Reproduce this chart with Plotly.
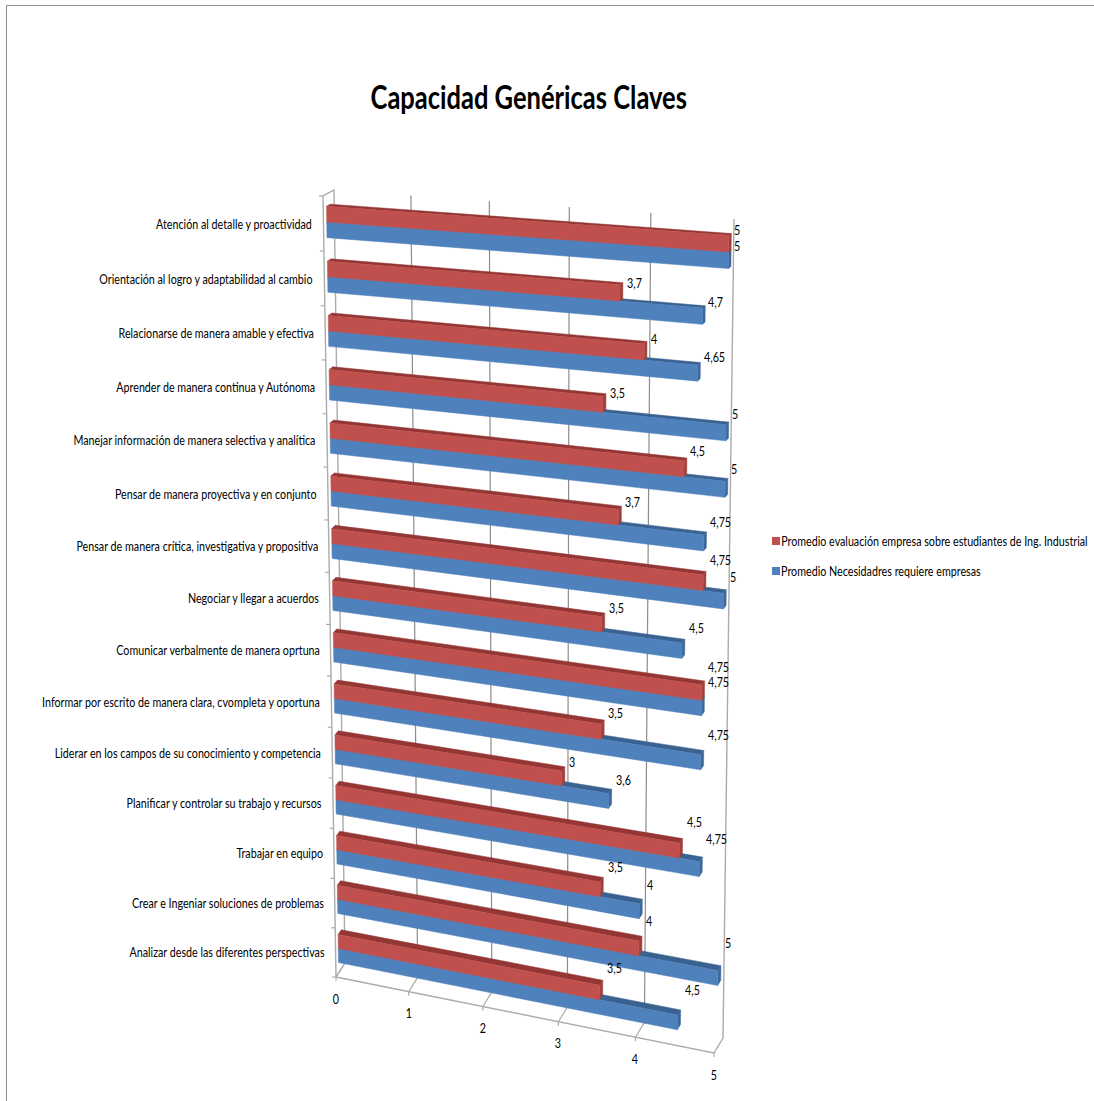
import plotly.graph_objects as go

# Chart content
TITLE = "Capacidad Genéricas Claves"
categories = [
    "Atención al detalle y proactividad",
    "Orientación al logro y adaptabilidad al cambio",
    "Relacionarse de manera amable y efectiva",
    "Aprender de manera continua y Autónoma",
    "Manejar información de manera selectiva y analítica",
    "Pensar de manera proyectiva y en conjunto",
    "Pensar de manera crítica, investigativa y propositiva",
    "Negociar y llegar a acuerdos",
    "Comunicar verbalmente de manera oprtuna",
    "Informar por escrito de manera clara, cvompleta y oportuna",
    "Liderar en los campos de su conocimiento y competencia",
    "Planificar y controlar su trabajo y recursos",
    "Trabajar en equipo",
    "Crear e Ingeniar soluciones de problemas",
    "Analizar desde las diferentes perspectivas",
]
evaluacion = [5, 3.7, 4, 3.5, 4.5, 3.7, 4.75, 3.5, 4.75, 3.5, 3, 4.5, 3.5, 4, 3.5]
necesidades = [5, 4.7, 4.65, 5, 5, 4.75, 5, 4.5, 4.75, 4.75, 3.6, 4.75, 4, 5, 4.5]
value_ticks = [0, 1, 2, 3, 4, 5]
NAME_RED = "Promedio evaluación empresa sobre estudiantes de Ing. Industrial"
NAME_BLUE = "Promedio Necesidadres requiere empresas"

# Styling
FONT = "Lato"
BODY_SIZE = 13
TITLE_SIZE = 33
CONDENSE_BODY = 0.825   # horizontal squeeze of the small text
CONDENSE_TITLE = 0.773  # horizontal squeeze of the title
RED, RED_TOP, RED_END = "#C0504D", "#943634", "#A03F3C"
BLUE, BLUE_TOP, BLUE_END = "#4F81BD", "#3A6291", "#3D6799"
WALL, GRID, BORDER = "#ABABAB", "#8C8C8C", "#8E8E8E"

# Perspective box of the 3-D plot: (front/back, bottom/top, left/right) page positions
BOX = {
    (0, 0, 0): (336, 977), (0, 0, 1): (714, 1053),
    (0, 1, 0): (323, 196), (0, 1, 1): (727, 224),
    (1, 0, 0): (345, 963), (1, 0, 1): (723, 1038),
    (1, 1, 0): (334, 190), (1, 1, 1): (734, 219),
}
N = len(categories)
VMAX = 5
DEPTH_FRONT, DEPTH_BACK = 0.30, 0.65
GAP = 0.21   # fraction of a category band left below the bars
BAR = 0.285  # fraction of a category band taken by one bar


def warp(t, w):
    """Foreshortening along one box edge."""
    return t / (t + (1 - t) * w)


def project(value, level, depth=0.0):
    """Map (value, category level, depth) to a page position."""
    u = warp(value / VMAX, 1.05)
    s = warp(level / N, 1.063)
    out = []
    for k in (0, 1):
        back_front = []
        for d in (0, 1):
            bottom = BOX[(d, 0, 0)][k] * (1 - u) + BOX[(d, 0, 1)][k] * u
            top = BOX[(d, 1, 0)][k] * (1 - u) + BOX[(d, 1, 1)][k] * u
            back_front.append(bottom * (1 - s) + top * s)
        out.append(back_front[0] * (1 - depth) + back_front[1] * depth)
    return out


def polygons(faces):
    xs, ys = [], []
    for face in faces:
        pts = [project(*p) for p in face]
        pts.append(pts[0])
        xs += [p[0] for p in pts] + [None]
        ys += [p[1] for p in pts] + [None]
    return xs, ys


def polylines(segments):
    xs, ys = [], []
    for seg in segments:
        pts = [project(*p) for p in seg]
        xs += [p[0] for p in pts] + [None]
        ys += [p[1] for p in pts] + [None]
    return xs, ys


def bar_faces(values, offset):
    """Front, top and end faces of one series' bars."""
    front, top, end = [], [], []
    for i, v in enumerate(values):
        lo = N - 1 - i + GAP + offset * BAR
        hi = lo + BAR
        f, b = DEPTH_FRONT, DEPTH_BACK
        front.append([(0, lo, f), (v, lo, f), (v, hi, f), (0, hi, f)])
        top.append([(0, hi, f), (v, hi, f), (v, hi, b), (0, hi, b)])
        end.append([(v, lo, f), (v, lo, b), (v, hi, b), (v, hi, f)])
    return front, top, end


fig = go.Figure()


def add_fill(faces, color):
    x, y = polygons(faces)
    fig.add_trace(go.Scatter(x=x, y=y, mode="lines", fill="toself", fillcolor=color,
                             line=dict(color=color, width=0.5), hoverinfo="skip",
                             showlegend=False))


def add_lines(segments, color, width=1.2):
    x, y = polylines(segments)
    fig.add_trace(go.Scatter(x=x, y=y, mode="lines", line=dict(color=color, width=width),
                             hoverinfo="skip", showlegend=False))


# Walls, floor and gridlines
add_lines([[(v, 0, 1), (v, N, 1)] for v in value_ticks[1:-1]], GRID)
add_lines([[(v, 0, 0), (v, 0, 1)] for v in value_ticks[1:-1]], WALL)
add_lines([
    [(0, 0, 0), (VMAX, 0, 0), (VMAX, 0, 1), (VMAX, N, 1)],
    [(0, 0, 1), (0, 0, 0), (0, N, 0), (0, N, 1), (0, 0, 1)],
], WALL, 1.4)

# Tick marks on the category and value edges
tx, ty = [], []
for lvl in range(N + 1):
    px, py = project(0, lvl, 0)
    tx += [px - 4, px, None]
    ty += [py, py, None]
for v in value_ticks:
    px, py = project(v, 0, 0)
    tx += [px, px, None]
    ty += [py, py + 4, None]
fig.add_trace(go.Scatter(x=tx, y=ty, mode="lines", line=dict(color=WALL, width=1.2),
                         hoverinfo="skip", showlegend=False))

# Bars, lower series first so the upper one sits on it
for values, offset, colors in ((necesidades, 0, (BLUE, BLUE_TOP, BLUE_END)),
                               (evaluacion, 1, (RED, RED_TOP, RED_END))):
    front, top, end = bar_faces(values, offset)
    add_fill(top, colors[1])
    add_fill(end, colors[2])
    add_fill(front, colors[0])


def add_text(x, y, text, size=BODY_SIZE, anchor="center", bold=False):
    fig.add_annotation(x=x, y=y, xref="x", yref="y", text=f"<b>{text}</b>" if bold else text,
                       showarrow=False, xanchor=anchor, yanchor="middle",
                       font=dict(family=FONT, size=size, color="#000000"))


# Category labels
for i, name in enumerate(categories):
    px, py = project(0, N - 1 - i + 0.5, 0)
    add_text(px - 9, py, name, anchor="right")

# Value axis labels
for v in value_ticks:
    px, py = project(v, 0, 0)
    add_text(px, py + 21.5, str(v))


def label_nudge(v, row):
    """Data labels float further above the bar toward the nearer, lower rows."""
    return 7.5 - 3.77 * (v - 3) + row * (-0.4 - 0.3 * (v - 3))


# Data labels, decimal comma
for i in range(N):
    for values, offset in ((evaluacion, 1), (necesidades, 0)):
        v = values[i]
        level = N - 1 - i + GAP + (offset + 1) * BAR
        px, py = project(v, level, DEPTH_FRONT + 1.05)
        add_text(px - 4, py + label_nudge(v, i), str(v).replace(".", ","), anchor="left")

# Legend
for name, color, ly in ((NAME_RED, RED, 541), (NAME_BLUE, BLUE, 571)):
    fig.add_trace(go.Scatter(x=[776], y=[ly], mode="markers",
                             marker=dict(symbol="square", size=8, color=color),
                             hoverinfo="skip", showlegend=False))
    add_text(779, ly, name, anchor="left")

add_text(528.5, 96, TITLE, size=TITLE_SIZE, bold=True)

# Chart frame, open on the right and bottom
fig.add_trace(go.Scatter(x=[6.5, 6.5, 1094], y=[1101, 5.5, 5.5], mode="lines",
                         line=dict(color=BORDER, width=1), hoverinfo="skip", showlegend=False))

fig.update_layout(
    width=1094, height=1101, autosize=False,
    margin=dict(l=0, r=0, t=0, b=0),
    paper_bgcolor="#FFFFFF", plot_bgcolor="#FFFFFF",
    showlegend=False,
    xaxis=dict(range=[0, 1094], visible=False, fixedrange=True),
    yaxis=dict(range=[1101, 0], visible=False, fixedrange=True),
)

# Narrow every text about its anchor once the chart has been drawn
CONDENSE_JS = """
var gd = document.getElementById('{plot_id}');
gd.querySelectorAll('.annotation').forEach(function (g) {
  var ann = gd.layout.annotations[+g.getAttribute('data-index')];
  var t = g.querySelector('text');
  var b = t.getBBox();
  var ax = ann.xanchor === 'left' ? b.x : ann.xanchor === 'right' ? b.x + b.width : b.x + b.width / 2;
  var sx = ann.font.size === %s ? %s : %s;
  t.setAttribute('transform', 'translate(' + ax + ' 0) scale(' + sx + ' 1) translate(' + (-ax) + ' 0)');
});
""" % (TITLE_SIZE, CONDENSE_TITLE, CONDENSE_BODY)
fig.write_html("out.html", post_script=CONDENSE_JS)
